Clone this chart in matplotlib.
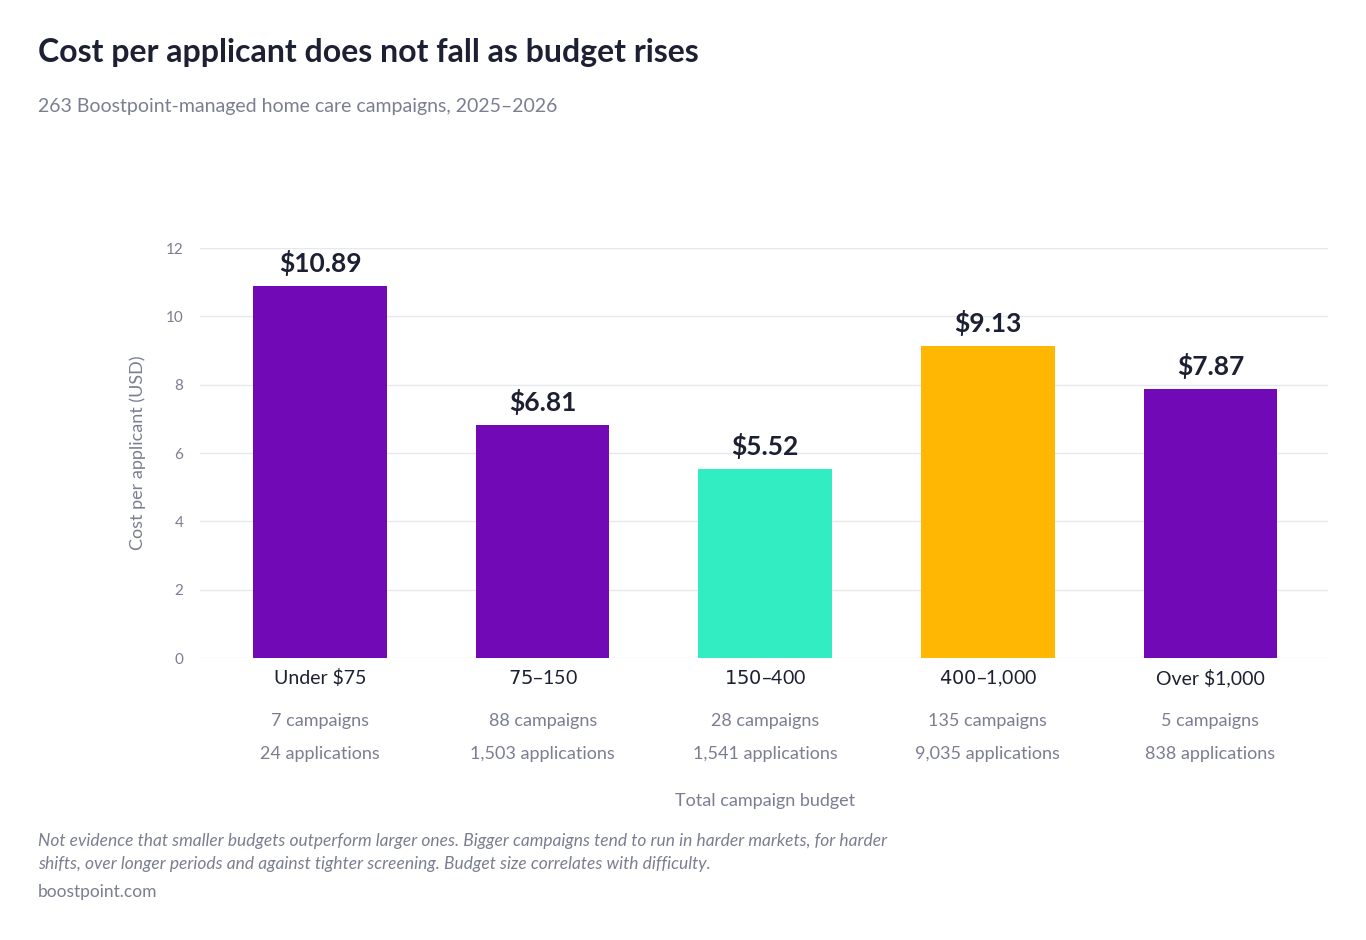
import matplotlib.pyplot as plt

plt.rcParams['font.family'] = ['Lato', 'DejaVu Sans']

categories = ['Under $75', '$75\u2013$150', '$150\u2013$400', '$400\u2013$1,000', 'Over $1,000']
cost = [10.89, 6.81, 5.52, 9.13, 7.87]
campaigns = [7, 88, 28, 135, 5]
applications = ['24', '1,503', '1,541', '9,035', '838']
colors = ['#7209B7', '#7209B7', '#33EDC2', '#FFB703', '#7209B7']

fig = plt.figure(figsize=(13.66, 9.4), dpi=100)
ax = fig.add_axes([0.1464, 0.300, 0.826, 0.436])

x = range(len(categories))
ax.bar(x, cost, width=0.6, color=colors, zorder=2)
for i, v in enumerate(cost):
    ax.text(i, v + 0.3, f'${v:.2f}', ha='center', va='bottom', fontsize=19,
            fontweight='bold', color='#1d2033')

ax.set_xlim(-0.54, 4.53)
ax.set_ylim(0, 12)
ax.set_yticks(range(0, 13, 2))
ax.grid(axis='y', color='#e6e8ef', linewidth=1, zorder=0)
for s in ax.spines.values():
    s.set_visible(False)
ax.tick_params(axis='y', length=0, labelsize=11, labelcolor='#7b7e91', pad=12)
ax.tick_params(axis='x', length=0, labelsize=14, labelcolor='#1d2033', pad=8)
ax.set_xticks(list(x))
ax.set_xticklabels(categories)
ax.set_ylabel('Cost per applicant (USD)', fontsize=13, color='#7b7e91', labelpad=14)

for i in x:
    ax.text(i, -1.85, f'{campaigns[i]} campaigns', ha='center', va='center',
            fontsize=13, color='#7b7e91')
    ax.text(i, -2.8, f'{applications[i]} applications', ha='center', va='center',
            fontsize=13, color='#7b7e91')
ax.text(2, -4.2, 'Total campaign budget', ha='center', va='center',
        fontsize=13, color='#7b7e91')

fig.text(0.028, 0.944, 'Cost per applicant does not fall as budget rises',
         fontsize=23, fontweight='bold', color='#1d2033', va='center')
fig.text(0.028, 0.887, '263 Boostpoint-managed home care campaigns, 2025\u20132026',
         fontsize=14, color='#7b7e91', va='center')
fig.text(0.028, 0.093,
         'Not evidence that smaller budgets outperform larger ones. Bigger campaigns tend to run in harder markets, for harder\n'
         'shifts, over longer periods and against tighter screening. Budget size correlates with difficulty.',
         fontsize=12.5, style='italic', color='#7b7e91', va='center', linespacing=1.5)
fig.text(0.028, 0.051, 'boostpoint.com', fontsize=12.5, color='#7b7e91', va='center')

fig.savefig('out.png', dpi=100)
